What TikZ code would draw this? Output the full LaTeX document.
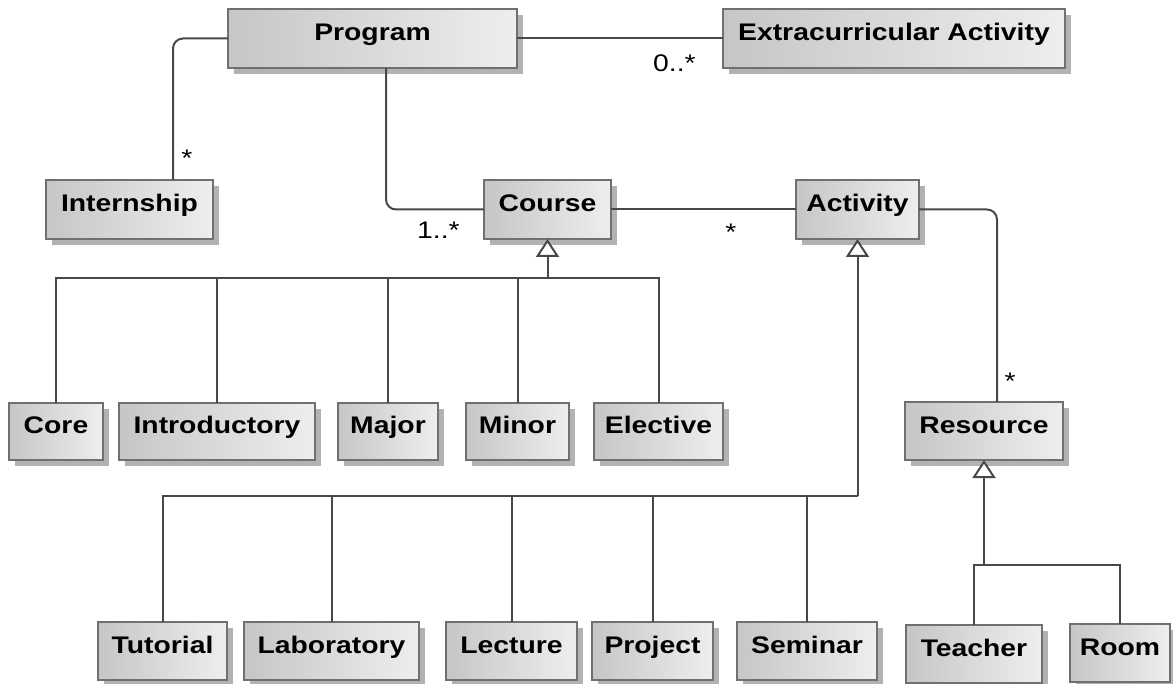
\documentclass[tikz,border=0pt]{standalone}
\usepackage{fontspec}
\setmainfont{Liberation Sans}[FakeStretch=1.18]
\usetikzlibrary{shadows,arrows.meta}
\definecolor{boxL}{RGB}{198,198,198}
\definecolor{boxR}{RGB}{238,238,238}
\definecolor{boxB}{RGB}{112,112,112}
\definecolor{shadowc}{RGB}{178,178,178}
\definecolor{linec}{RGB}{72,72,72}
\begin{document}
\begin{tikzpicture}[x=1pt,y=-1pt,
  umlbox/.style={draw=boxB, line width=1.8pt, left color=boxL, right color=boxR,
    inner sep=0pt, outer sep=0pt, font=\fontsize{24}{28}\selectfont\bfseries,
    text height=17pt, text depth=12pt,
    drop shadow={shadow xshift=6pt, shadow yshift=-6pt, fill=shadowc, opacity=1}},
  conn/.style={draw=linec, line width=2pt},
  gen/.style={conn, -{Triangle[width=23pt,length=18pt,fill=white]}},
  mult/.style={font=\fontsize{24}{28}\selectfont, inner sep=0pt, anchor=base},
]
\fill[white] (0,0) rectangle (1173,684);
\useasboundingbox (0,0) rectangle (1173,684);

% boxes
\node[umlbox, minimum width=289pt, minimum height=59pt] (Program) at (372.5,38.5) {Program};
\node[umlbox, minimum width=342pt, minimum height=59pt] (Extra) at (894,38.5) {Extracurricular Activity};
\node[umlbox, minimum width=167pt, minimum height=59pt] (Internship) at (129.5,209.5) {Internship};
\node[umlbox, minimum width=127pt, minimum height=59pt] (Course) at (547.5,209.5) {Course};
\node[umlbox, minimum width=123pt, minimum height=59pt] (Activity) at (857.5,209.5) {Activity};
\node[umlbox, minimum width=94pt, minimum height=57pt] (Core) at (56,431.5) {Core};
\node[umlbox, minimum width=196pt, minimum height=57pt] (Introductory) at (217,431.5) {Introductory};
\node[umlbox, minimum width=100pt, minimum height=57pt] (Major) at (388,431.5) {Major};
\node[umlbox, minimum width=103pt, minimum height=57pt] (Minor) at (517.5,431.5) {Minor};
\node[umlbox, minimum width=129pt, minimum height=57pt] (Elective) at (658.5,431.5) {Elective};
\node[umlbox, minimum width=158pt, minimum height=58pt] (Resource) at (984,431) {Resource};
\node[umlbox, minimum width=129pt, minimum height=58pt] (Tutorial) at (162.5,651) {Tutorial};
\node[umlbox, minimum width=175pt, minimum height=58pt] (Laboratory) at (331.5,651) {Laboratory};
\node[umlbox, minimum width=131pt, minimum height=58pt] (Lecture) at (511.5,651) {Lecture};
\node[umlbox, minimum width=121pt, minimum height=58pt] (Project) at (652.5,651) {Project};
\node[umlbox, minimum width=140pt, minimum height=58pt] (Seminar) at (807,651) {Seminar};
\node[umlbox, minimum width=136pt, minimum height=58pt] (Teacher) at (974,654) {Teacher};
\node[umlbox, minimum width=100pt, minimum height=58pt] (Room) at (1120,653) {Room};

% associations
\draw[conn, rounded corners=10pt] (Program.west) -| ([xshift=43.5pt]Internship.north);
\draw[conn, rounded corners=10pt] ([xshift=13.5pt]Program.south) |- (Course.west);
\draw[conn] (Program.east) -- (Extra.west);
\draw[conn] (Course.east) -- (Activity.west);
\draw[conn, rounded corners=10pt] (Activity.east) -| ([xshift=13pt]Resource.north);

% multiplicities
\node[mult] (m1) at (187,167) {*};
\node[mult, anchor=base west] (m2) at (417,239) {1..*};
\node[mult, anchor=base west] (m3) at (653,72) {0..*};
\node[mult] (m4) at (731,241) {*};
\node[mult] (m5) at (1010,390) {*};

% generalisations
\coordinate (cbus) at (547.5,278);
\foreach \n in {Core,Introductory,Major,Minor,Elective}
  \draw[conn] (\n.north) |- (cbus);
\draw[gen] (cbus) -- (Course.south);

\coordinate (abus) at (857.5,496);
\foreach \n in {Tutorial,Laboratory,Lecture,Project,Seminar}
  \draw[conn] (\n.north) |- (abus);
\draw[gen] (abus) -- (Activity.south);

\coordinate (rbus) at (984,565);
\foreach \n in {Teacher,Room}
  \draw[conn] (\n.north) |- (rbus);
\draw[gen] (rbus) -- (Resource.south);
\end{tikzpicture}
\end{document}
